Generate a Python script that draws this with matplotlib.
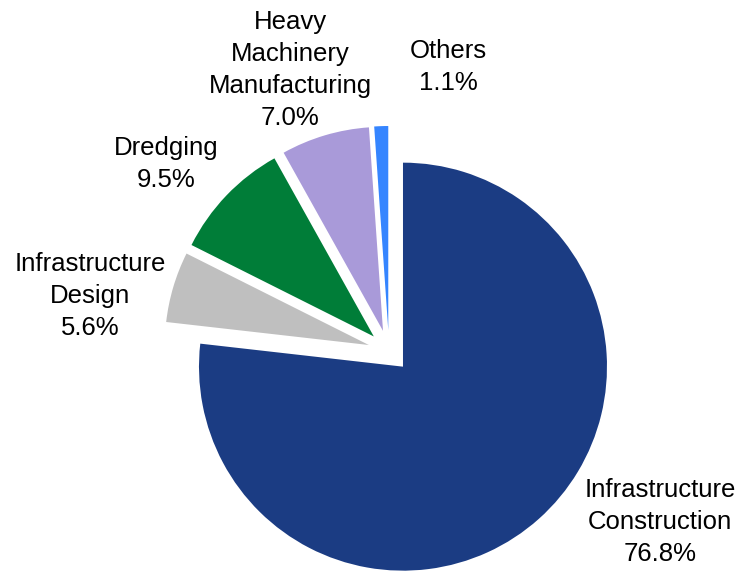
import matplotlib
matplotlib.use("Agg")
import matplotlib.pyplot as plt

plt.rcParams['font.family'] = ['Liberation Sans', 'DejaVu Sans']

# segment shares (%)
segments = ["Infrastructure\nConstruction", "Infrastructure\nDesign", "Dredging",
            "Heavy\nMachinery\nManufacturing", "Others"]
shares = [76.8, 5.6, 9.5, 7.0, 1.1]
colors = ["#1B3C83", "#BFBFBF", "#007D38", "#A99AD9", "#3585FF"]

# label anchor points in pixel space (origin bottom-left)
label_pos = [(660, 49), (90, 275), (166, 407), (290, 501), (448, 504)]

fig = plt.figure(figsize=(7.42, 5.71), dpi=100)
ax = fig.add_axes([0, 0, 1, 1])

# pie explode is in data units here, so offset each wedge by ~21 px
ax.pie(shares, colors=colors, startangle=90, counterclock=False,
       explode=[21] * len(shares), center=(389, 220), radius=204,
       wedgeprops=dict(linewidth=0))

for name, val, (x, y) in zip(segments, shares, label_pos):
    ax.text(x, y, f"{name}\n{val:.1f}%", ha="center", va="center",
            multialignment="center", fontsize=18.5, color="black",
            linespacing=1.42)

ax.set_xlim(0, 742)
ax.set_ylim(0, 571)
ax.set_aspect("equal")
ax.axis("off")

fig.savefig("out.png", dpi=100)
